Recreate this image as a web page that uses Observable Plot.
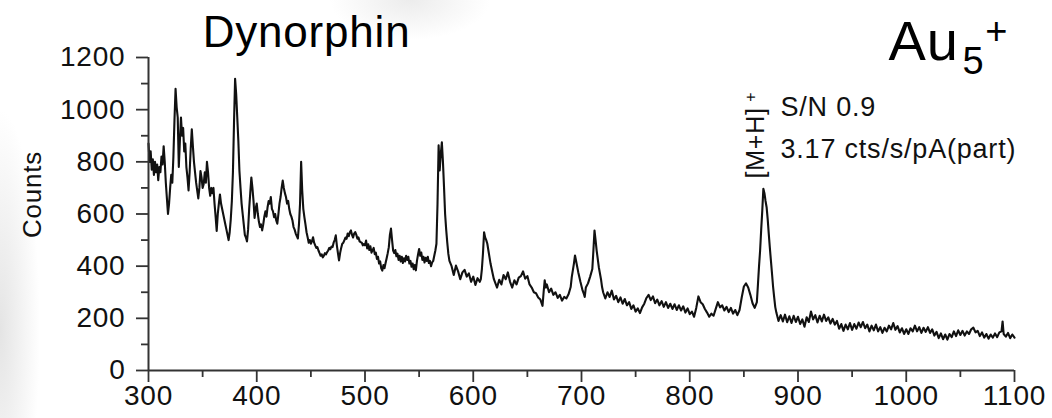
<!DOCTYPE html>
<html><head><meta charset="utf-8">
<script src="https://cdn.jsdelivr.net/npm/d3@7"></script>
<script src="https://cdn.jsdelivr.net/npm/@observablehq/plot@0.6"></script>
<style>
html,body{margin:0;padding:0;background:#fff;}
#chart{position:relative;width:1052px;height:418px;overflow:hidden;
 background:
  radial-gradient(ellipse 40px 220px at 0px 330px, #e4e4e4, rgba(255,255,255,0)),
  radial-gradient(ellipse 80px 40px at 410px 0px, #ececec, rgba(255,255,255,0)),
  #fff;}
#chart svg text{letter-spacing:0.8px;}
</style></head><body><div id="chart"></div>
<script>
// spectrum: [m/z, counts]
const spectrum = [
[300,870],[301,800],[302,840],[303,770],[304,810],[305,750],[306,800],[307,760],[308,790],[309,730],[310,780],[311,760],[312,820],[313,790],[314,860],[315,800],[316,720],[317,660],[318,600],[319,640],[320,700],[321,750],[322,720],[323,820],[324,960],[325,1080],[326,1010],[327,970],[328,780],[329,880],[330,970],[331,900],[332,930],[333,840],[334,870],[335,780],[336,740],[337,690],[338,760],[339,850],[340,925],[341,860],[342,800],[343,760],[344,720],[345,690],[346,660],[347,700],[348,765],[349,740],[350,700],[351,715],[352,760],[353,720],[354,800],[355,760],[356,700],[357,670],[358,700],[359,680],[360,700],[361,640],[362,590],[363,535],[364,600],[365,640],[366,675],[367,640],[368,620],[369,600],[370,580],[371,560],[372,540],[373,520],[374,500],[375,530],[376,580],[377,650],[378,760],[379,950],[380,1118],[381,1060],[382,970],[383,880],[384,765],[385,700],[386,640],[387,600],[388,560],[389,520],[390,510],[391,495],[392,540],[393,620],[394,680],[395,740],[396,700],[397,650],[398,585],[399,620],[400,640],[401,600],[402,570],[403,550],[404,560],[405,537],[406,560],[407,590],[408,610],[409,590],[410,626],[411,650],[412,640],[413,665],[414,620],[415,610],[416,588],[417,600],[418,575],[419,563],[420,600],[421,640],[422,665],[423,700],[424,728],[425,700],[426,680],[427,665],[428,640],[429,650],[430,620],[431,600],[432,590],[433,575],[434,550],[435,540],[436,525],[437,515],[438,506],[439,560],[440,640],[441,800],[442,690],[443,620],[444,588],[445,560],[446,530],[447,511],[448,490],[449,500],[450,486],
[451,495],[452,511],[453,490],[454,480],[455,470],[456,473],[457,460],[458,450],[459,440],[460,445],[461,434],[462,440],[463,450],[464,445],[465,454],[466,460],[467,470],[468,465],[469,475],[470,473],[471,490],[472,500],[473,518],[474,480],[475,450],[476,422],[477,450],[478,470],[479,486],[480,490],[481,500],[482,510],[483,505],[484,525],[485,515],[486,530],[487,537],[488,520],[489,510],[490,525],[491,531],[492,520],[493,505],[494,510],[495,495],[496,492],[497,490],[498,480],[499,485],[500,480],
[501,498],[502,468],[503,484],[504,462],[505,476],[506,452],[508,470],[509,446],[510,452],[511,428],[512,436],[513,410],[514,418],[515,392],[516,383],[517,404],[518,392],[519,412],[520,430],[521,450],[522,473],[523,520],[524,544],[525,500],[526,460],[527,450],[528,462],[529,438],[530,448],[531,424],[532,440],[533,418],[534,436],[535,412],[536,430],[537,418],[538,440],[539,424],[540,436],[541,410],[542,420],[543,398],[544,410],[545,388],[546,404],[547,384],[548,420],[549,445],[550,466],[551,440],[552,452],[553,424],[554,436],[555,414],[556,432],[557,420],[558,436],[559,412],[560,420],[561,400],[562,414],[563,420],[564,440],[565,460],[566,486],[567,640],[568,863],[569,767],[570,830],[571,875],[572,800],[573,703],[574,600],[575,540],[576,490],[577,447],[578,420],
[580,400],[582,366],[584,402],[586,380],[588,350],[590,376],[592,386],[594,360],[596,372],[598,340],[600,360],[602,328],[604,354],[606,340],[607,350],[608,390],[609,450],[610,530],[611,510],[612,500],[613,486],[614,460],[616,409],[618,370],[619,351],[620,340],[622,318],[624,348],[626,330],[628,366],[630,350],[632,376],[634,340],[636,318],[638,346],[640,330],[642,356],[644,362],[646,380],[648,352],[650,362],[652,330],[654,318],[656,300],[658,296],[660,280],[662,272],[664,248],[665,300],[666,346],[667,318],[668,330],[670,300],[672,314],[674,290],[676,300],[678,278],[680,290],[682,268],[684,282],[686,276],[688,292],[690,320],[691,358],[693,410],[694,441],[695,420],[697,377],[699,340],[701,307],[702,296],[703,282],[704,318],[706,334],[708,360],[710,389],[711,460],[712,537],[713,500],[714,460],[716,396],[718,350],[719,320],
[720,300],[722,276],[724,300],[726,282],[728,306],[730,272],[732,286],[734,262],[736,280],[738,256],[740,274],[742,250],[744,262],[746,236],[748,250],[750,226],[752,238],[754,220],[756,242],[758,256],[760,278],[762,290],[764,270],[766,284],[768,258],[770,272],[772,250],[774,266],[776,244],[778,262],[780,240],[782,256],[784,236],[786,254],[788,232],[790,250],[792,230],[794,246],[796,222],[798,238],[800,216],[802,226],[804,206],[806,240],[808,284],[810,262],[812,254],[814,236],[816,222],[818,206],[820,218],[822,210],[824,236],[826,262],[828,242],[830,250],[832,230],[834,244],[836,224],[838,240],[840,218],[842,232],[844,212],[846,232],[848,280],[850,322],[852,334],[854,318],[856,290],[858,258],[860,240],[862,262],
[863,330],[864,400],[865,460],[866,540],[867,613],[868,697],[869,680],[870,650],[871,626],[872,580],[873,524],[874,470],[875,420],[876,371],[877,320],[878,280],[879,243],
[880,222],[882,190],[884,212],[886,188],[888,214],[890,185],[892,208],[894,182],[896,210],[898,186],[900,206],[902,178],[904,196],[906,168],[908,204],[910,186],[912,226],[914,196],[916,212],[918,184],[920,210],[922,188],[924,214],[926,190],[928,204],[930,180],[932,198],[934,176],[936,190],[938,160],[940,178],[942,152],[944,176],[946,158],[948,182],[950,156],[952,178],[954,160],[956,184],[958,166],[960,186],[962,162],[964,176],[966,150],[968,172],[970,154],[972,176],[974,150],[976,166],[978,144],[980,164],[982,150],[984,172],[986,158],[988,182],[990,156],[992,170],[994,146],[996,162],[998,140],[1000,158],[1002,140],[1004,162],[1006,150],[1008,172],[1010,150],[1012,166],[1014,144],[1016,164],[1018,148],[1020,166],[1022,144],[1024,158],[1026,134],[1028,148],[1030,124],[1032,142],[1034,120],[1036,138],[1038,118],[1040,140],[1042,128],[1044,150],[1046,132],[1048,154],[1050,136],[1052,152],[1054,134],[1056,150],[1058,140],[1060,158],[1062,164],[1064,146],[1066,152],[1068,132],[1070,146],[1072,126],[1074,140],[1076,122],[1078,138],[1080,126],[1082,142],[1084,128],[1086,146],[1088,150],[1089,188],[1090,140],[1092,130],[1094,144],[1096,124],[1098,138],[1100,126]
];
const xMajor = [300,400,500,600,700,800,900,1000,1100];
const xMinor = [350,450,550,650,750,850,950,1050];
const yMajor = [0,200,400,600,800,1000,1200];
const yMinor = [100,300,500,700,900,1100];
const title = "Dynorphin";
const ionBase = "Au", ionSub = "5", ionSup = "+";
const peakLabel = "[M+H]", peakSup = "+";
const noteLines = ["S/N 0.9", "3.17 cts/s/pA(part)"];
const yLabel = "Counts";

const data = spectrum.map(([m, c]) => ({mz: m, counts: c}));
const font = "'Liberation Sans', Arial, Helvetica, sans-serif";
const axisColor = "#333";

const plot = Plot.plot({
  width: 1052, height: 418,
  marginLeft: 148, marginRight: 38, marginTop: 57, marginBottom: 48,
  style: {background: "transparent", fontFamily: font, fontSize: "28px", color: "#111", overflow: "visible"},
  x: {domain: [300, 1100]},
  y: {domain: [0, 1200]},
  marks: [
    Plot.line(data, {x: "mz", y: "counts", stroke: "#111", strokeWidth: 2.1, strokeLinejoin: "round"}),
    Plot.ruleY([0], {stroke: axisColor, strokeWidth: 2}),
    Plot.ruleX([300], {stroke: axisColor, strokeWidth: 2}),
    Plot.axisX({ticks: xMajor, tickSize: 12, tickPadding: 3, tickFormat: d => String(d), stroke: axisColor, strokeWidth: 1.8, label: null, fill: "#111"}),
    Plot.axisX({ticks: xMinor, tickSize: 7, tickFormat: () => "", stroke: axisColor, strokeWidth: 1.8, label: null}),
    Plot.axisY({ticks: yMajor, tickSize: 12, tickPadding: 11, tickFormat: d => String(d), stroke: axisColor, strokeWidth: 1.8, label: null, fill: "#111"}),
    Plot.axisY({ticks: yMinor, tickSize: 7, tickFormat: () => "", stroke: axisColor, strokeWidth: 1.8, label: null}),
    Plot.text([title], {x: 446, y: 1296, text: d => d, fontSize: 44, textAnchor: "middle", lineAnchor: "middle", fill: "#000"}),
    Plot.text([ionBase], {x: 983.6, y: 1258, text: d => d, fontSize: 56, textAnchor: "start", lineAnchor: "middle", fill: "#000"}),
    Plot.text([ionSub], {x: 1052, y: 1182, text: d => d, fontSize: 38, textAnchor: "start", lineAnchor: "middle", fill: "#000"}),
    Plot.text([ionSup], {x: 1073, y: 1300, text: d => d, fontSize: 38, textAnchor: "start", lineAnchor: "middle", fill: "#000"}),
    Plot.text([noteLines[0]], {x: 883.8, y: 1008, text: d => d, fontSize: 27, textAnchor: "start", lineAnchor: "middle", fill: "#111"}),
    Plot.text([noteLines[1]], {x: 883.8, y: 847, text: d => d, fontSize: 27, textAnchor: "start", lineAnchor: "middle", fill: "#111"}),
    Plot.text([peakLabel], {x: 861.5, y: 736, text: d => d, fontSize: 25, rotate: -90, textAnchor: "start", lineAnchor: "middle", fill: "#111"}),
    Plot.text([peakSup], {x: 856.5, y: 1030, text: d => d, fontSize: 16, rotate: -90, textAnchor: "start", lineAnchor: "middle", fill: "#111"}),
    Plot.text([yLabel], {x: 192.8, y: 675, text: d => d, fontSize: 26, rotate: -90, textAnchor: "middle", lineAnchor: "middle", fill: "#111"})
  ]
});
document.getElementById("chart").appendChild(plot);
</script>
</body></html>
